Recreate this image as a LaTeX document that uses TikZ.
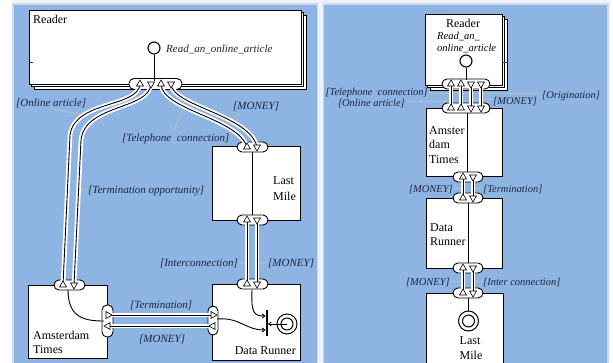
\documentclass[tikz,border=0pt]{standalone}
\usepackage{fontspec}
\setmainfont{Liberation Serif}
\usetikzlibrary{shapes.geometric,arrows.meta}
\definecolor{panelblue}{RGB}{142,180,227}
\definecolor{paneledge}{RGB}{205,218,236}
\definecolor{gapcol}{RGB}{238,242,247}
\definecolor{leadcol}{RGB}{182,188,198}
\definecolor{labcol}{RGB}{30,36,62}
\definecolor{tickcol}{RGB}{40,60,120}
\tikzset{
  actorbox/.style={draw=black, line width=0.9pt, fill=white, inner sep=0pt},
  shadowbox/.style={draw=black, line width=0.8pt, fill=white},
  portbox/.style={draw=black, line width=0.9pt, fill=white, rounded corners=5pt, inner sep=0pt},
  vtri/.style={regular polygon, regular polygon sides=3, draw=black, fill=white, line width=0.6pt, inner sep=0pt, minimum size=8pt},
  triup/.style={vtri},
  tridown/.style={vtri, shape border rotate=180},
  trileft/.style={vtri, shape border rotate=90},
  triright/.style={vtri, shape border rotate=-90},
  vx/.style={draw=black, line width=0.9pt, preaction={draw=white, line width=4.6pt}},
  conn/.style={draw=black, line width=0.9pt},
  leader/.style={draw=leadcol, line width=0.9pt},
  lab/.style={font=\fontsize{11}{13}\selectfont\itshape, text=labcol, inner sep=0pt},
  labs/.style={font=\fontsize{10.5}{12}\selectfont\itshape, text=labcol, inner sep=0pt},
  boxlbl/.style={font=\fontsize{12}{14.5}\selectfont, inner sep=0pt},
  stim/.style={circle, draw=black, line width=1.1pt, fill=white, minimum size=12pt, inner sep=0pt},
  bullo/.style={circle, draw=black, line width=1pt, fill=white, minimum size=20pt, inner sep=0pt},
  bulli/.style={circle, draw=black, line width=1pt, minimum size=12pt, inner sep=0pt},
  barb/.style={-{Straight Barb[length=2.5pt,width=4pt]}},
}
\begin{document}
\begin{tikzpicture}[x=1pt,y=-1pt]
\useasboundingbox (0,0) rectangle (613,362);
\fill[white] (0,0) rectangle (613,362);
\fill[gapcol] (13,0) rectangle (610,362);
\filldraw[fill=panelblue, draw=paneledge, line width=1.5pt] (13,4) rectangle (317.5,370);
\filldraw[fill=panelblue, draw=paneledge, line width=1.5pt] (323.5,4) rectangle (608,370);

%================ LEFT PANEL =================
% Reader
\filldraw[shadowbox] (34,15) rectangle (306,89);
\filldraw[shadowbox] (31.5,12.5) rectangle (303.5,86.5);
\node[actorbox, minimum width=272pt, minimum height=74pt] (readerL) at (165,47) {};
\node[boxlbl, anchor=base west] (readerLname) at (33,23) {Reader};
\draw[tickcol, line width=0.8pt] (30,62) -- (33,62);
\node[stim] (startL) at (154,48) {};
\node[lab, anchor=base west] (startLlbl) at (166,52) {Read\_an\_online\_article};
\node[portbox, minimum width=53pt, minimum height=11pt] (pRL) at (155.5,84) {};
\coordinate (cRL) at (154,81);
\draw[conn] (startL.south) -- (cRL);

% Last Mile
\node[actorbox, minimum width=88pt, minimum height=74pt] (lmL) at (256,183) {};
\node[boxlbl, anchor=base west] (lmL1) at (273,184) {Last};
\node[boxlbl, anchor=base west] (lmL2) at (273,200) {Mile};
\node[portbox, minimum width=31pt, minimum height=10pt] (pLMt) at (252.5,147) {};
\node[portbox, minimum width=31pt, minimum height=10pt] (pLMb) at (252.5,220) {};
\coordinate (cLMt) at (252,152);
\coordinate (cLMb) at (252,215);
\draw[conn] (cLMt) -- (cLMb);

% Data Runner
\node[actorbox, minimum width=88pt, minimum height=76pt] (drL) at (256,322) {};
\node[boxlbl, anchor=base east] (drLname) at (296,354) {Data Runner};
\node[portbox, minimum width=31pt, minimum height=10pt] (pDRt) at (252.5,284) {};
\node[portbox, minimum width=10pt, minimum height=29pt] (pDRl) at (213,320.5) {};
\node[fill=black, minimum width=1.1pt, minimum height=26pt, inner sep=0pt] (andL) at (267,323) {};
\node[bullo] (endL) at (287,324) {};
\node[bulli] (endLi) at (287,324) {};
\coordinate (cDR1) at (252,290);
\coordinate (cDR1e) at (265.5,316);
\coordinate (cDR2) at (217,319);
\coordinate (cDR2e) at (265.5,330);
\coordinate (cDR3) at (268,324);
\draw[conn, barb] (cDR1) .. controls (251,313) and (254,316) .. (cDR1e);
\draw[conn, barb] (cDR2) .. controls (240,317) and (245,330) .. (cDR2e);
\draw[conn, {Straight Barb[length=2.5pt,width=4pt]}-] (cDR3) -- (endLi.center);

% Amsterdam Times
\node[actorbox, minimum width=79pt, minimum height=73pt] (atL) at (67.5,321.5) {};
\node[boxlbl, anchor=base west] (atL1) at (33,339) {Amsterdam};
\node[boxlbl, anchor=base west] (atL2) at (33,353) {Times};
\node[portbox, minimum width=31pt, minimum height=10pt] (pATt) at (69.5,285) {};
\node[portbox, minimum width=11pt, minimum height=32pt] (pATr) at (107.5,321) {};
\coordinate (cAT1) at (68,290);
\coordinate (cAT2) at (104,321);
\draw[conn] (cAT1) .. controls (68,318) and (85,321) .. (cAT2);

% port points
\coordinate (tRL1) at (140,84);
\coordinate (tRL2) at (151,84);
\coordinate (tRL3) at (161,84);
\coordinate (tRL4) at (171,84);
\coordinate (tLMt1) at (247,147);
\coordinate (tLMt2) at (257,147);
\coordinate (tLMb1) at (247,220);
\coordinate (tLMb2) at (257,220);
\coordinate (tDRt1) at (247,284);
\coordinate (tDRt2) at (257,284);
\coordinate (tATt1) at (63,285);
\coordinate (tATt2) at (74,285);
\coordinate (tATr1) at (108,315);
\coordinate (tATr2) at (108,326);
\coordinate (tDRl1) at (213,315);
\coordinate (tDRl2) at (213,326);

% leaders
\draw[leader] (50,108) -- (83,115);
\draw[leader] (87,189) -- (78,189);
\draw[leader] (174,131) -- (183,107);
\draw[leader] (240,113) -- (231,120);
\draw[leader] (238,262) -- (247,262);
\draw[leader] (257,262) -- (268,262);
\draw[leader] (160,309) -- (160,315);
\draw[leader] (160,326) -- (160,333);

% value exchanges
\draw[vx] (tRL1) .. controls (138,108) and (75,100) .. (70,135) -- (tATt1);
\draw[vx] (tRL2) .. controls (149,110) and (85,104) .. (81,140) -- (tATt2);
\draw[vx] (tRL3) .. controls (162,110) and (238,118) .. (tLMt1);
\draw[vx] (tRL4) .. controls (172,106) and (250,115) .. (tLMt2);
\draw[vx] (tLMb1) -- (tDRt1);
\draw[vx] (tLMb2) -- (tDRt2);
\draw[vx] (tATr1) -- (tDRl1);
\draw[vx] (tATr2) -- (tDRl2);

% triangles
\node[triup] (nRL1) at (tRL1) {};
\node[tridown] (nRL2) at (tRL2) {};
\node[triup] (nRL3) at (tRL3) {};
\node[tridown] (nRL4) at (tRL4) {};
\node[triup] (nLMt1) at (tLMt1) {};
\node[tridown] (nLMt2) at (tLMt2) {};
\node[triup] (nLMb1) at (tLMb1) {};
\node[tridown] (nLMb2) at (tLMb2) {};
\node[triup] (nDRt1) at (tDRt1) {};
\node[tridown] (nDRt2) at (tDRt2) {};
\node[triup] (nATt1) at (tATt1) {};
\node[tridown] (nATt2) at (tATt2) {};
\node[triright] (nATr1) at (tATr1) {};
\node[trileft] (nATr2) at (tATr2) {};
\node[triright] (nDRl1) at (tDRl1) {};
\node[trileft] (nDRl2) at (tDRl2) {};

% labels
\node[lab, anchor=base west] (lOA) at (16,106) {[Online article]};
\node[lab, anchor=base west] (lTO) at (88,193) {[Termination opportunity]};
\node[lab, anchor=base west] (lTC) at (122,141) {[Telephone\ \ connection]};
\node[lab, anchor=base west] (lM1) at (233,109) {[MONEY]};
\node[lab, anchor=base east] (lIC) at (238,266) {[Interconnection]};
\node[lab, anchor=base west] (lM2) at (268,266) {[MONEY]};
\node[lab, anchor=base west] (lTe) at (130,308) {[Termination]};
\node[lab, anchor=base west] (lM3) at (139,342) {[MONEY]};

%================ RIGHT PANEL =================
\filldraw[shadowbox] (430,19) rectangle (507,90);
\filldraw[shadowbox] (427.5,16.5) rectangle (504.5,87.5);
\node[actorbox, minimum width=77pt, minimum height=71pt] (readerR) at (463.5,49.5) {};
\draw[tickcol, line width=0.8pt] (503,62) -- (508,62);
\node[boxlbl, anchor=base] (readerRname) at (463,27) {Reader};
\node[labs, anchor=base west, text=black] (startRl1) at (437,39) {Read\_an\_};
\node[labs, anchor=base west, text=black] (startRl2) at (437,51) {online\_article};
\node[stim] (startR) at (466,61) {};
\node[portbox, minimum width=48pt, minimum height=10pt] (pR1) at (466,84) {};
\coordinate (cR1) at (466,80);
\draw[conn] (startR.south) -- (cR1);

\node[actorbox, minimum width=76pt, minimum height=68pt] (atR) at (464,142) {};
\node[boxlbl, anchor=base west] (atR1) at (429,134) {Amster};
\node[boxlbl, anchor=base west] (atR2) at (429,148) {dam};
\node[boxlbl, anchor=base west] (atR3) at (429,163) {Times};
\node[portbox, minimum width=48pt, minimum height=10pt] (pR2) at (466,108) {};
\node[portbox, minimum width=30pt, minimum height=10pt] (pR3) at (468,177) {};
\coordinate (cAR1) at (467,113);
\coordinate (cAR2) at (467,172);
\draw[conn] (cAR1) -- (cAR2);

\node[actorbox, minimum width=76pt, minimum height=70pt] (drR) at (464,233) {};
\node[boxlbl, anchor=base west] (drR1) at (430,231) {Data};
\node[boxlbl, anchor=base west] (drR2) at (430,245) {Runner};
\node[portbox, minimum width=30pt, minimum height=10pt] (pR4) at (468,198) {};
\node[portbox, minimum width=30pt, minimum height=10pt] (pR5) at (468,268) {};
\coordinate (cDRR1) at (468,203);
\coordinate (cDRR2) at (468,263);
\draw[conn] (cDRR1) -- (cDRR2);

\node[actorbox, minimum width=77pt, minimum height=79pt] (lmR) at (464.5,332.5) {};
\node[portbox, minimum width=30pt, minimum height=10pt] (pR6) at (468,293) {};
\node[bullo] (endR) at (468.5,321) {};
\node[bulli] (endRi) at (468.5,321) {};
\coordinate (cLR1) at (468.5,298);
\draw[conn] (cLR1) -- (endR.north);
\node[boxlbl, anchor=base] (lmR1) at (470,344) {Last};
\node[boxlbl, anchor=base] (lmR2) at (471,359) {Mile};

% port points right
\coordinate (tR11) at (451,84);
\coordinate (tR12) at (461,84);
\coordinate (tR13) at (471,84);
\coordinate (tR14) at (481,84);
\coordinate (tR21) at (451,108);
\coordinate (tR22) at (461,108);
\coordinate (tR23) at (471,108);
\coordinate (tR24) at (481,108);
\coordinate (tR31) at (463,177);
\coordinate (tR32) at (473,177);
\coordinate (tR41) at (463,198);
\coordinate (tR42) at (473,198);
\coordinate (tR51) at (463,268);
\coordinate (tR52) at (473,268);
\coordinate (tR61) at (463,293);
\coordinate (tR62) at (473,293);

% leaders right
\draw[leader] (429,93) -- (471,93);
\draw[leader] (541,93) -- (461,93);
\draw[leader] (406,101.5) -- (451,101.5);
\draw[leader] (492,99) -- (471,99);
\draw[leader] (453,188) -- (463,188);
\draw[leader] (473,188) -- (483,188);
\draw[leader] (450,281) -- (463,281);
\draw[leader] (473,281) -- (483,281);

% exchanges right
\draw[vx] (tR11) -- (tR21);
\draw[vx] (tR12) -- (tR22);
\draw[vx] (tR13) -- (tR23);
\draw[vx] (tR14) -- (tR24);
\draw[vx] (tR31) -- (tR41);
\draw[vx] (tR32) -- (tR42);
\draw[vx] (tR51) -- (tR61);
\draw[vx] (tR52) -- (tR62);

% triangles right
\node[triup] (nR11) at (tR11) {};
\node[triup] (nR12) at (tR12) {};
\node[tridown] (nR13) at (tR13) {};
\node[tridown] (nR14) at (tR14) {};
\node[triup] (nR21) at (tR21) {};
\node[triup] (nR22) at (tR22) {};
\node[tridown] (nR23) at (tR23) {};
\node[tridown] (nR24) at (tR24) {};
\node[triup] (nR31) at (tR31) {};
\node[tridown] (nR32) at (tR32) {};
\node[triup] (nR41) at (tR41) {};
\node[tridown] (nR42) at (tR42) {};
\node[triup] (nR51) at (tR51) {};
\node[tridown] (nR52) at (tR52) {};
\node[triup] (nR61) at (tR61) {};
\node[tridown] (nR62) at (tR62) {};

% labels right
\node[labs, anchor=base east] (rTC) at (428,95.5) {[Telephone\ \ connection]};
\node[labs, anchor=base east] (rOA) at (405,106.5) {[Online article]};
\node[labs, anchor=base west] (rM1) at (493,104) {[MONEY]};
\node[labs, anchor=base west] (rOr) at (542,98) {[Origination]};
\node[labs, anchor=base east] (rM2) at (453,192) {[MONEY]};
\node[labs, anchor=base west] (rTe) at (483,192) {[Termination]};
\node[labs, anchor=base east] (rM3) at (450,285) {[MONEY]};
\node[labs, anchor=base west] (rIC) at (483,285) {[Inter connection]};
\end{tikzpicture}
\end{document}
